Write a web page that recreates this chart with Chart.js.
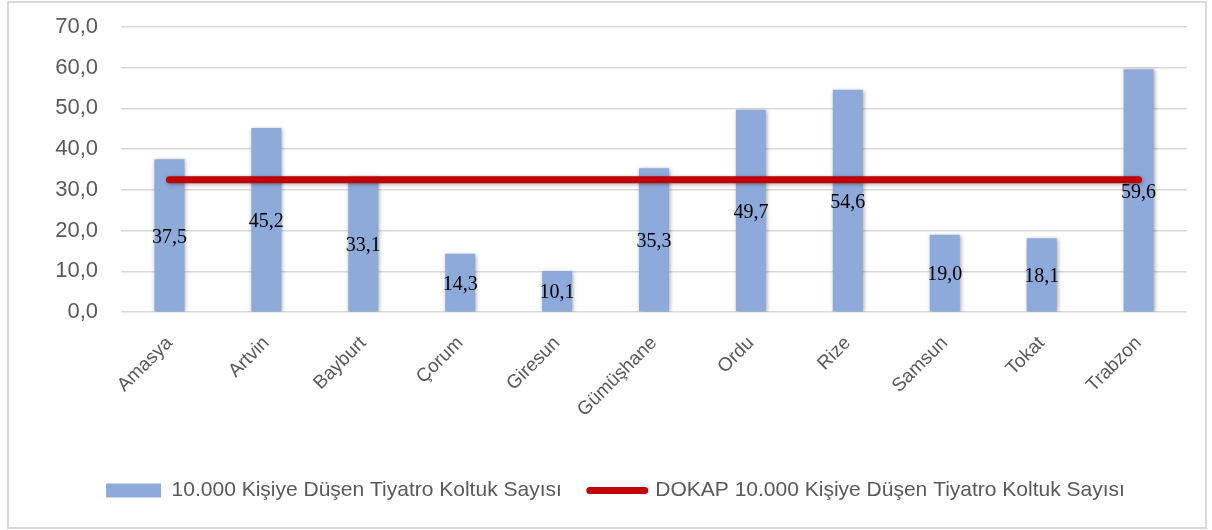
<!DOCTYPE html>
<html>
<head>
<meta charset="utf-8">
<script src="https://cdn.jsdelivr.net/npm/chart.js@4.4.1/dist/chart.umd.min.js"></script>
<style>
  html, body { margin: 0; padding: 0; background: #fff; }
  #wrap { position: relative; width: 1212px; height: 530px; }
  #frame { position: absolute; left: 7px; top: 1px; width: 1196px; height: 524px;
           border: 2px solid #d9d9d9; pointer-events: none; }
</style>
</head>
<body>
<div id="wrap">
  <canvas id="chart" width="1212" height="530"></canvas>
  <div id="frame"></div>
</div>
<script>
// provinces
const iller = ["Amasya", "Artvin", "Bayburt", "Çorum", "Giresun", "Gümüşhane", "Ordu", "Rize", "Samsun", "Tokat", "Trabzon"];
// seats per 10.000 people
const koltuk = [37.5, 45.2, 33.1, 14.3, 10.1, 35.3, 49.7, 54.6, 19.0, 18.1, 59.6];
// DOKAP average (flat line)
const dokap = [32.5, 32.5, 32.5, 32.5, 32.5, 32.5, 32.5, 32.5, 32.5, 32.5, 32.5];
const yTicks = [0, 10, 20, 30, 40, 50, 60, 70];

const fmt = v => v.toFixed(1).replace(".", ",");
const uiFont = "'Liberation Sans', 'Open Sans', sans-serif";

// numbers in the middle of each bar
const barLabels = {
  id: "barLabels",
  afterDatasetsDraw(chart) {
    const ctx = chart.ctx;
    const meta = chart.getDatasetMeta(0);
    ctx.save();
    ctx.font = "20px 'Liberation Serif', 'Times New Roman', serif";
    ctx.fillStyle = "#000";
    ctx.textAlign = "center";
    ctx.textBaseline = "middle";
    meta.data.forEach((bar, i) => {
      const y = (bar.y + bar.base) / 2;
      ctx.fillText(fmt(koltuk[i]), bar.x, y + 2);
    });
    ctx.restore();
  }
};

// soft shadow like the office chart
const shadow = {
  id: "shadow",
  beforeDatasetDraw(chart) {
    const ctx = chart.ctx;
    ctx.save();
    ctx.shadowColor = "rgba(0,0,0,0.35)";
    ctx.shadowBlur = 4;
    ctx.shadowOffsetX = 1;
    ctx.shadowOffsetY = 1;
  },
  afterDatasetDraw(chart) {
    chart.ctx.restore();
  }
};

// legend sits a little right of the plot centre in the original
const legendShift = {
  id: "legendShift",
  afterLayout(chart) {
    chart.legend.left += 22;
    chart.legend.right += 22;
  }
};

const ctx = document.getElementById("chart");
new Chart(ctx, {
  type: "bar",
  data: {
    labels: iller,
    datasets: [{
      label: "10.000 Kişiye Düşen Tiyatro Koltuk Sayısı",
      data: koltuk,
      backgroundColor: "#8eaadb",
      categoryPercentage: 1,
      barPercentage: 0.31,
      order: 1
    }, {
      type: "line",
      label: "DOKAP 10.000 Kişiye Düşen Tiyatro Koltuk Sayısı",
      data: dokap,
      borderColor: "#c00000",
      backgroundColor: "#c00000",
      borderWidth: 7,
      borderCapStyle: "round",
      pointRadius: 0,
      order: 0
    }]
  },
  options: {
    responsive: false,
    animation: false,
    layout: { padding: { left: 0, right: 25, top: 27, bottom: 19 } },
    scales: {
      y: {
        min: 0,
        max: 70,
        afterBuildTicks: s => { s.ticks = yTicks.map(v => ({ value: v })); },
        afterFit: s => { s.width = 121; s.paddingTop = 0; s.paddingBottom = 0; },
        border: { display: false },
        grid: { color: "#d9d9d9", lineWidth: 1.5, drawTicks: false },
        ticks: {
          padding: 23,
          color: "#595959",
          font: { family: uiFont, size: 22 },
          callback: v => fmt(v)
        }
      },
      x: {
        afterFit: s => { s.height = 140; s.paddingLeft = 0; s.paddingRight = 0; },
        border: { display: false },
        grid: { display: false },
        ticks: {
          minRotation: 45,
          maxRotation: 45,
          padding: 12,
          color: "#595959",
          font: { family: uiFont, size: 19 }
        }
      }
    },
    plugins: {
      tooltip: { enabled: false },
      legend: {
        position: "bottom",
        labels: {
          color: "#595959",
          font: { family: uiFont, size: 21 },
          usePointStyle: true,
          pointStyleWidth: 55,
          boxHeight: 14,
          padding: 28,
          generateLabels: chart => chart.data.datasets.map((d, i) => ({
            text: d.label,
            fillStyle: d.type === "line" ? d.borderColor : d.backgroundColor,
            strokeStyle: d.type === "line" ? d.borderColor : "rgba(0,0,0,0)",
            lineWidth: d.type === "line" ? 7 : 0,
            lineCap: "round",
            pointStyle: d.type === "line" ? "line" : "rect",
            fontColor: "#595959",
            datasetIndex: i
          }))
        }
      }
    }
  },
  plugins: [barLabels, shadow, legendShift]
});
</script>
</body>
</html>
